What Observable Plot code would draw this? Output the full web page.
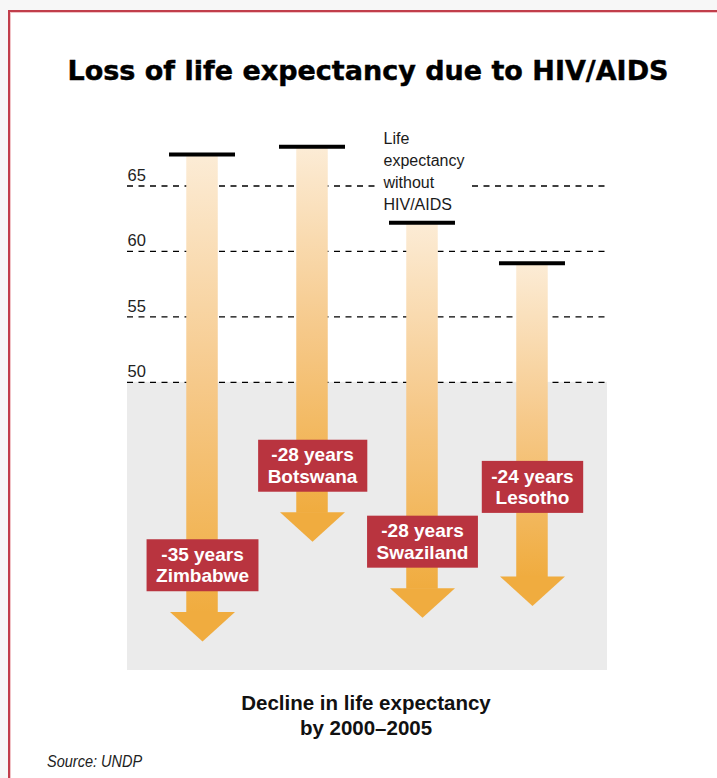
<!DOCTYPE html>
<html>
<head>
<meta charset="utf-8">
<script src="https://cdn.jsdelivr.net/npm/d3@7"></script>
<script src="https://cdn.jsdelivr.net/npm/@observablehq/plot@0.6"></script>
<style>
  html, body { margin: 0; padding: 0; width: 717px; height: 778px; overflow: hidden; background: #f7f7f7; }
  #frame { position: absolute; left: 8px; top: 10px; width: 760px; height: 820px; background: #fff;
           border-left: 2px solid #c13e4b; border-top: 2px solid #c13e4b; box-shadow: inset 1px 1px 0 #f1c3c7; }
  #title { position: absolute; left: 0; width: 736px; top: 57px; text-align: center;
           font: bold 27px/27px "DejaVu Sans", sans-serif; color: #000; -webkit-text-stroke: 0.45px #000; }
  #chart { position: absolute; left: 0; top: 100px; }
  #caption { position: absolute; left: 0; width: 732px; top: 690px; text-align: center;
             font: bold 20.5px/25px "Liberation Sans", Arial, sans-serif; color: #111; }
  #source { position: absolute; left: 47px; top: 751px; transform: scaleX(0.88); transform-origin: 0 0;
            font: italic 16.5px/20px "Liberation Sans Narrow", "Liberation Sans", Arial, sans-serif; color: #222; }
</style>
</head>
<body>
<div id="frame"></div>
<div id="title">Loss of life expectancy due to HIV/AIDS</div>
<div id="chart"></div>
<div id="caption">Decline in life expectancy<br>by 2000–2005</div>
<div id="source">Source: UNDP</div>
<script>
// ---- data ----
const countries = ["Zimbabwe", "Botswana", "Swaziland", "Lesotho"];
const lifeExpWithoutAids = [67.4, 68.0, 62.2, 59.1];
const declineYears = [35, 28, 28, 24];
const yTicks = [50, 55, 60, 65];
const annotationText = "Life\nexpectancy\nwithout\nHIV/AIDS";

const data = countries.map((c, i) => ({
  country: c,
  top: lifeExpWithoutAids[i],
  bottom: lifeExpWithoutAids[i] - declineYears[i],
  label: `-${declineYears[i]} years\n${c}`
}));

// arrow head drawn as a custom symbol (pointing down from the shaft's end)
const arrowHead = {
  draw(ctx) {
    ctx.moveTo(-32.5, -1);
    ctx.lineTo(32.5, -1);
    ctx.lineTo(0, 28.5);
    ctx.closePath();
  }
};

const headColor = "#f0ac3f";

const chart = Plot.plot({
  width: 717,
  height: 580,
  marginLeft: 127,
  marginRight: 110,
  marginTop: 20,
  marginBottom: 10,
  x: { type: "band", domain: countries, paddingInner: 0, paddingOuter: 0.182, axis: null, round: false },
  y: { domain: [28, 70], axis: null },
  style: { fontFamily: "'Liberation Sans', Arial, sans-serif", background: "transparent", overflow: "visible" },
  marks: [
    Plot.rect([0], { y1: 28, y2: 50, fill: "#ebebeb" }),
    Plot.ruleY(yTicks, { stroke: "#000", strokeWidth: 1.3, strokeDasharray: "6,5.5" }),
    Plot.text(yTicks, { y: d => d, text: d => String(d), frameAnchor: "left", textAnchor: "start",
                        lineAnchor: "bottom", dy: -5, fontSize: 16.5, fill: "#222" }),
    Plot.barY(data, { x: "country", y1: "bottom", y2: "top", fill: "url(#shaftGrad)",
                      insetLeft: 39.25, insetRight: 39.25 }),
    Plot.tickY(data, { x: "country", y: "top", stroke: "#000", strokeWidth: 4, inset: 22 }),
    Plot.dot(data, { x: "country", y: "bottom", symbol: arrowHead, fill: headColor, stroke: "none", r: 10 }),
    Plot.text(data.filter(d => d.country === "Swaziland"), {
      x: "country", y: "top", text: () => annotationText, textAnchor: "start", lineAnchor: "bottom",
      dx: -39, dy: -13, fontSize: 16, lineHeight: 1.36, fill: "#1a1a1a"
    }),
    Plot.text(data.filter(d => d.country !== "Lesotho"), {
      x: "country", y: "bottom", text: "label", dy: -48, fill: "white",
      fontWeight: "bold", fontSize: 19, lineHeight: 1.13
    }),
    Plot.text(data.filter(d => d.country === "Lesotho"), {
      x: "country", y: "bottom", text: "label", dy: -91, fill: "white",
      fontWeight: "bold", fontSize: 19, lineHeight: 1.13
    })
  ]
});

document.getElementById("chart").append(chart);

// gradient for the arrow shafts
const defs = d3.select(chart).insert("defs", ":first-child");
const grad = defs.append("linearGradient").attr("id", "shaftGrad")
  .attr("x1", 0).attr("y1", 0).attr("x2", 0).attr("y2", 1);
grad.append("stop").attr("offset", 0).attr("stop-color", "#fcecd6");
grad.append("stop").attr("offset", 0.5).attr("stop-color", "#f6c98a");
grad.append("stop").attr("offset", 1).attr("stop-color", headColor);

// background boxes behind label texts
const NS = "http://www.w3.org/2000/svg";
function boxBehind(t, fill, padL, padR, h) {
  const b = t.getBBox();
  const r = document.createElementNS(NS, "rect");
  const cy = b.y + b.height / 2;
  const hh = h == null ? b.height : h;
  r.setAttribute("x", b.x - padL);
  r.setAttribute("y", cy - hh / 2);
  r.setAttribute("width", b.width + padL + padR);
  r.setAttribute("height", hh);
  r.setAttribute("fill", fill);
  r.setAttribute("stroke", "none");
  const tr = t.getAttribute("transform");
  if (tr) r.setAttribute("transform", tr);
  t.parentNode.insertBefore(r, t);
}
chart.querySelectorAll("text").forEach(t => {
  const s = t.textContent;
  if (s.includes("years")) boxBehind(t, "#b9343f", 9.5, 9.5, 52);
  else if (s.includes("HIV/AIDS")) boxBehind(t, "#ffffff", 6, 5, null);
});
</script>
</body>
</html>
